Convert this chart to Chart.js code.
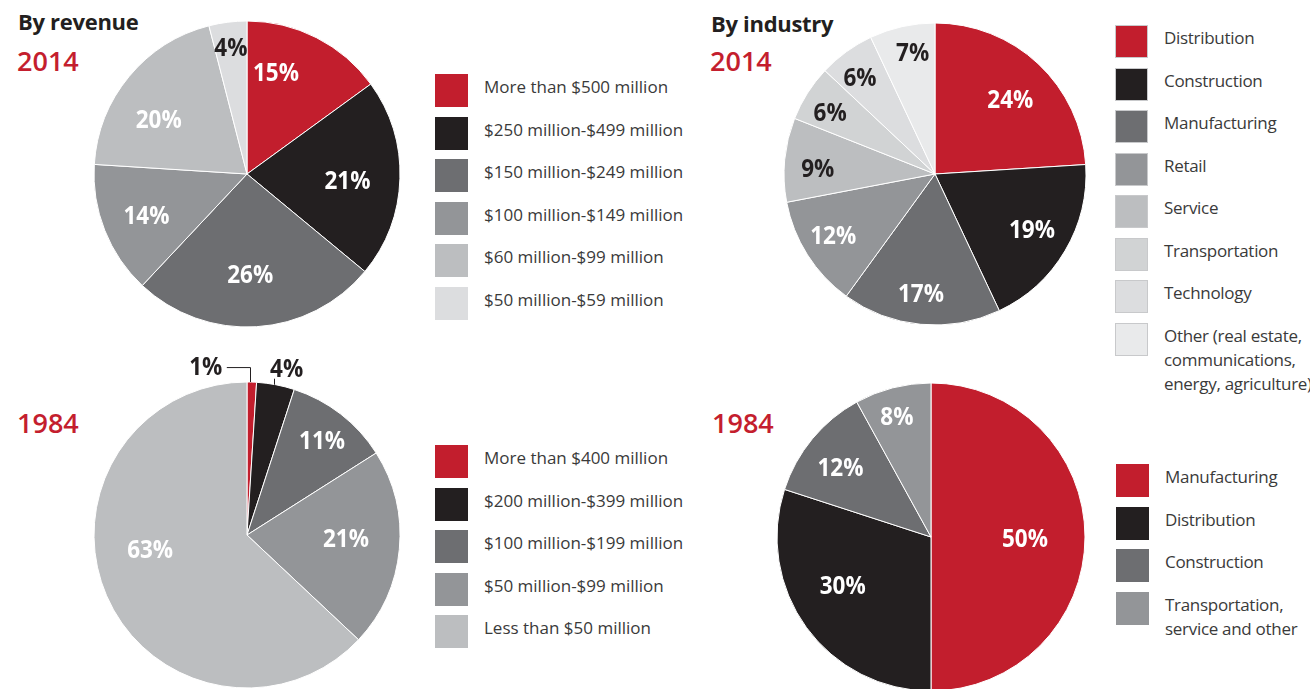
<!DOCTYPE html>
<html lang="en">
  <head>
    <meta charset="UTF-8" />
    <title>Companies by revenue and industry, 2014 vs 1984</title>
    <script src="https://cdn.jsdelivr.net/npm/chart.js"></script>
    <style>
      body {
        margin: 0;
        width: 1310px;
        height: 689px;
        overflow: hidden;
        background: #fff;
        font-family: "Open Sans", sans-serif;
        position: relative;
      }
      canvas {
        position: absolute;
      }
      .title {
        position: absolute;
        font-weight: bold;
        font-size: 22px;
        color: #231f20;
        letter-spacing: -0.3px;
      }
      .year {
        position: absolute;
        font-size: 27px;
        color: #c41e2e;
        font-weight: 600;
      }
      .legend {
        position: absolute;
        font-size: 17px;
        color: #3a3a3a;
      }
      .legend.tight {
        letter-spacing: -0.3px;
      }
      .legend .item {
        position: relative;
        height: 42.5px;
      }
      .legend .sw {
        position: absolute;
        left: 0;
        top: 0;
        width: 33px;
        height: 33px;
        box-sizing: border-box;
      }
      .legend .lbl {
        position: absolute;
        left: 49px;
        top: 1px;
        line-height: 24px;
        white-space: nowrap;
      }
    </style>
  </head>
  <body>
    <div class="title" style="left: 18px; top: 6px">By revenue</div>
    <div class="year" style="left: 17px; top: 42px">2014</div>
    <div class="year" style="left: 17px; top: 404px">1984</div>
    <div class="title" style="left: 711px; top: 8px">By industry</div>
    <div class="year" style="left: 710px; top: 42px">2014</div>
    <div class="year" style="left: 712px; top: 404px">1984</div>

    <div class="legend" id="legRev14" style="left: 435px; top: 74px"></div>
    <div class="legend" id="legRev84" style="left: 435px; top: 445px"></div>
    <div class="legend tight" id="legInd14" style="left: 1115px; top: 25px"></div>
    <div class="legend tight" id="legInd84" style="left: 1116px; top: 464px"></div>

    <canvas id="rev14" width="400" height="400" style="left: 47px; top: -26px"></canvas>
    <canvas id="rev84" width="400" height="400" style="left: 47px; top: 335px"></canvas>
    <canvas id="ind14" width="400" height="400" style="left: 735px; top: -26px"></canvas>
    <canvas id="ind84" width="400" height="400" style="left: 731px; top: 337px"></canvas>

    <script>
      // Data
      const rev2014Labels = [
        "More than $500 million",
        "$250 million-$499 million",
        "$150 million-$249 million",
        "$100 million-$149 million",
        "$60 million-$99 million",
        "$50 million-$59 million",
      ];
      const rev2014Values = [15, 21, 26, 14, 20, 4];

      const rev1984Labels = [
        "More than $400 million",
        "$200 million-$399 million",
        "$100 million-$199 million",
        "$50 million-$99 million",
        "Less than $50 million",
      ];
      const rev1984Values = [1, 4, 11, 21, 63];

      const ind2014Labels = [
        "Distribution",
        "Construction",
        "Manufacturing",
        "Retail",
        "Service",
        "Transportation",
        "Technology",
        "Other (real estate,\ncommunications,\nenergy, agriculture)",
      ];
      const ind2014Values = [24, 19, 17, 12, 9, 6, 6, 7];

      const ind1984Labels = [
        "Manufacturing",
        "Distribution",
        "Construction",
        "Transportation,\nservice and other",
      ];
      const ind1984Values = [50, 30, 12, 8];

      // Colours
      const RED = "#c21e2d";
      const BLACK = "#231f20";
      const DARK = "#6d6e71";
      const MID = "#939598";
      const LIGHT = "#bcbec0";
      const LIGHTER = "#d1d3d4";
      const PALE = "#dcdddf";
      const PALEST = "#e9eaeb";

      // Draws the % labels inside (or next to) each slice
      const sliceLabels = {
        id: "sliceLabels",
        afterDatasetsDraw(chart) {
          const opts = chart.options.plugins.sliceLabels;
          if (!opts) return;
          const ctx = chart.ctx;
          const meta = chart.getDatasetMeta(0);
          const values = chart.data.datasets[0].data;
          ctx.save();
          ctx.font = "bold 25px 'Open Sans', sans-serif";
          ctx.textAlign = "center";
          ctx.textBaseline = "middle";
          meta.data.forEach((arc, i) => {
            const p = arc.getProps(["x", "y", "startAngle", "endAngle", "outerRadius"], true);
            const mid = (p.startAngle + p.endAngle) / 2;
            const frac = opts.radius[i];
            const nudge = (opts.nudge && opts.nudge[i]) || [0, 0];
            const ex = p.x + Math.cos(mid) * p.outerRadius;
            const ey = p.y + Math.sin(mid) * p.outerRadius;
            const lx = p.x + Math.cos(mid) * p.outerRadius * frac + nudge[0];
            const ly = p.y + Math.sin(mid) * p.outerRadius * frac + nudge[1];
            const leader = opts.leader && opts.leader[i];
            if (leader) {
              ctx.strokeStyle = BLACK;
              ctx.lineWidth = 1;
              ctx.beginPath();
              ctx.moveTo(Math.round(ex) - 1.5, ey);
              if (leader === "elbow") {
                ctx.lineTo(Math.round(ex) - 1.5, ly + 0.5);
                ctx.lineTo(lx + 21, ly + 0.5);
              } else {
                ctx.lineTo(Math.round(ex) - 1.5, ey - 6);
              }
              ctx.stroke();
            }
            // slightly condensed type, like the original
            ctx.save();
            ctx.translate(lx, ly + 1);
            ctx.scale(0.9, 1);
            ctx.fillStyle = opts.colors[i];
            ctx.fillText(values[i] + "%", 0, 0);
            ctx.restore();
          });
          ctx.restore();
        },
      };

      function makePie(id, labels, values, colors, radius, labelOpts) {
        return new Chart(document.getElementById(id), {
          type: "pie",
          data: {
            labels: labels,
            datasets: [
              {
                data: values,
                backgroundColor: colors,
                borderColor: "#ffffff",
                borderWidth: 1,
              },
            ],
          },
          options: {
            responsive: false,
            maintainAspectRatio: false,
            animation: false,
            radius: radius,
            layout: { padding: 0 },
            plugins: {
              legend: { display: false },
              tooltip: { enabled: false },
              sliceLabels: labelOpts,
            },
          },
          plugins: [sliceLabels],
        });
      }

      function makeLegend(id, labels, colors, bordered) {
        const el = document.getElementById(id);
        labels.forEach((text, i) => {
          const item = document.createElement("div");
          item.className = "item";
          const sw = document.createElement("div");
          sw.className = "sw";
          sw.style.background = colors[i];
          if (bordered) sw.style.border = "1px solid #c8c9cb";
          const lbl = document.createElement("div");
          lbl.className = "lbl";
          lbl.innerHTML = text.replace(/\n/g, "<br>");
          item.appendChild(sw);
          item.appendChild(lbl);
          el.appendChild(item);
        });
      }

      const rev2014Colors = [RED, BLACK, DARK, MID, LIGHT, PALE];
      const rev1984Colors = [RED, BLACK, DARK, MID, LIGHT];
      const ind2014Colors = [RED, BLACK, DARK, MID, LIGHT, LIGHTER, PALE, PALEST];
      const ind1984Colors = [RED, BLACK, DARK, MID];

      makePie("rev14", rev2014Labels, rev2014Values, rev2014Colors, 153, {
        radius: [0.69, 0.65, 0.64, 0.7, 0.69, 0.84],
        nudge: [[-19, -7], [1, 4], [-3, 3], [-1, 2], [-7, 13], [0, 1]],
        colors: ["#fff", "#fff", "#fff", "#fff", "#fff", BLACK],
      });
      makePie("rev84", rev1984Labels, rev1984Values, rev1984Colors, 153, {
        radius: [1, 1, 0.8, 0.65, 0.64],
        nudge: [[-46, -15], [11, -16], [0, 3], [0, -5], [-7, -24]],
        leader: ["elbow", "tick", null, null, null],
        colors: [BLACK, BLACK, "#fff", "#fff", "#fff"],
      });
      makePie("ind14", ind2014Labels, ind2014Values, ind2014Colors, 151, {
        radius: [0.7, 0.7, 0.78, 0.72, 0.78, 0.76, 0.8, 0.83],
        nudge: [[3, 3], [6, 2], [-3, 3], [-10, 4], [0, 6], [-8, 0], [-4, 2], [5, 1]],
        colors: ["#fff", "#fff", "#fff", "#fff", BLACK, BLACK, BLACK, BLACK],
      });
      makePie("ind84", ind1984Labels, ind1984Values, ind1984Colors, 154, {
        radius: [0.61, 0.62, 0.78, 0.84],
        nudge: [[0, 2], [-11, -7], [2, 7], [-2, 5]],
        colors: ["#fff", "#fff", "#fff", "#fff"],
      });

      makeLegend("legRev14", rev2014Labels, rev2014Colors, false);
      makeLegend("legRev84", rev1984Labels, rev1984Colors, false);
      makeLegend("legInd14", ind2014Labels, ind2014Colors, true);
      makeLegend("legInd84", ind1984Labels, ind1984Colors, false);
    </script>
  </body>
</html>
